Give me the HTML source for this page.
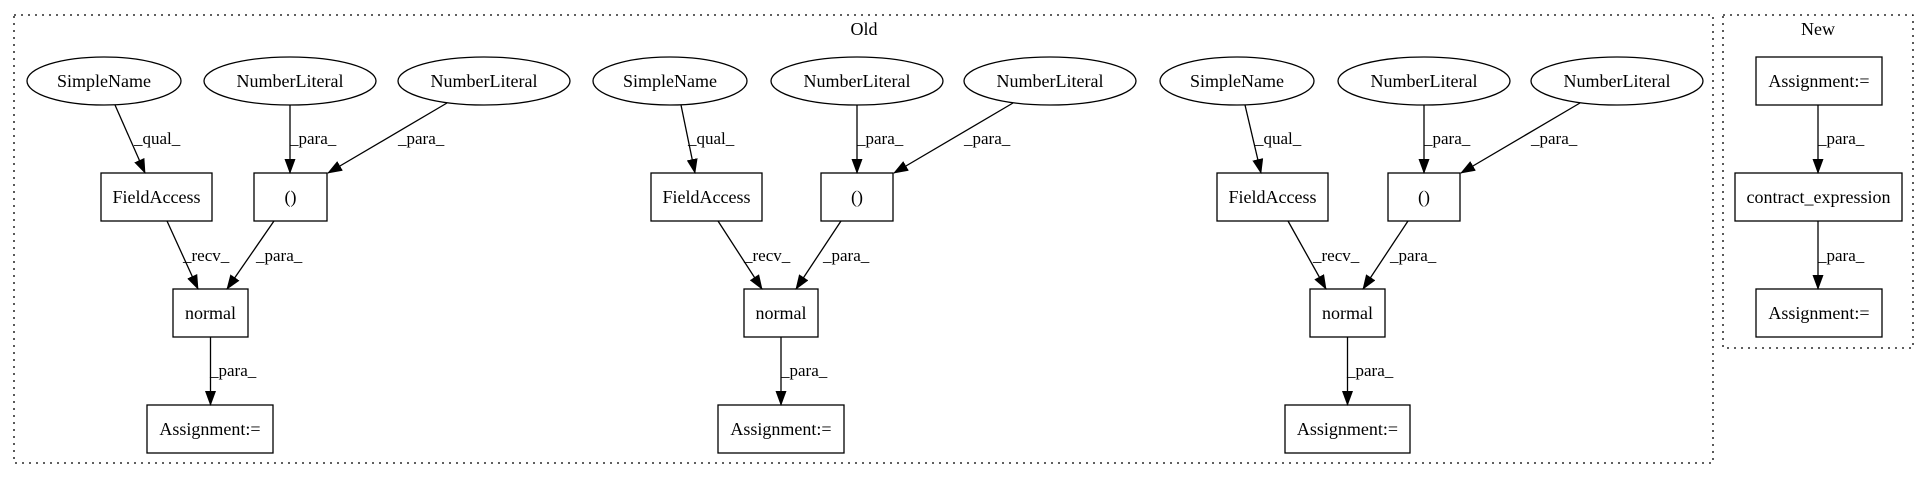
<!DOCTYPE html>
<html><head><meta charset="utf-8"><style>
html,body{margin:0;padding:0;background:#fff;}
svg{display:block;}
text{font-family:"Liberation Serif",serif;fill:#000;}
.n{font-size:18px;text-anchor:middle;}
.l{font-size:17px;}
.b{fill:#fff;stroke:#000;stroke-width:1.3;}
.e{stroke:#000;stroke-width:1.3;fill:none;}
.c{fill:none;stroke:#000;stroke-width:1.3;stroke-dasharray:2,5;}
</style></head><body>
<svg width="1929" height="480" viewBox="0 0 1929 480" xmlns="http://www.w3.org/2000/svg">
<defs><marker id="a" markerWidth="15" markerHeight="11" refX="14" refY="5.5" orient="auto" markerUnits="userSpaceOnUse"><path d="M0,0 L15,5.5 L0,11 Z" fill="#000"/></marker></defs>
<rect class="c" x="14" y="15" width="1699" height="448"/>
<text class="n" x="864" y="35">Old</text>
<rect class="c" x="1723" y="15" width="190" height="333"/>
<text class="n" x="1818" y="35">New</text>

<g>
<ellipse class="b" cx="104" cy="81" rx="77" ry="24"/><text class="n" x="104" y="87">SimpleName</text>
<ellipse class="b" cx="290" cy="81" rx="86" ry="24"/><text class="n" x="290" y="87">NumberLiteral</text>
<ellipse class="b" cx="484" cy="81" rx="86" ry="24"/><text class="n" x="484" y="87">NumberLiteral</text>
<rect class="b" x="101" y="173" width="111" height="48"/><text class="n" x="156.5" y="203">FieldAccess</text>
<rect class="b" x="254" y="173" width="73" height="48"/><text class="n" x="290.5" y="203">()</text>
<rect class="b" x="173" y="289" width="75" height="48"/><text class="n" x="210.5" y="319">normal</text>
<rect class="b" x="147" y="405" width="126" height="48"/><text class="n" x="210" y="435">Assignment:=</text>
<line class="e" x1="115" y1="105" x2="145" y2="173" marker-end="url(#a)"/>
<line class="e" x1="290" y1="105" x2="290" y2="173" marker-end="url(#a)"/>
<line class="e" x1="447" y1="103" x2="328" y2="173" marker-end="url(#a)"/>
<line class="e" x1="167" y1="221" x2="198" y2="289" marker-end="url(#a)"/>
<line class="e" x1="274" y1="221" x2="227" y2="289" marker-end="url(#a)"/>
<line class="e" x1="210.5" y1="337" x2="210.5" y2="405" marker-end="url(#a)"/>
<text class="l" x="134" y="144">_qual_</text>
<text class="l" x="290" y="144">_para_</text>
<text class="l" x="398" y="144">_para_</text>
<text class="l" x="183" y="261">_recv_</text>
<text class="l" x="256" y="261">_para_</text>
<text class="l" x="210" y="376">_para_</text>
</g>

<g>
<ellipse class="b" cx="670" cy="81" rx="77" ry="24"/><text class="n" x="670" y="87">SimpleName</text>
<ellipse class="b" cx="857" cy="81" rx="86" ry="24"/><text class="n" x="857" y="87">NumberLiteral</text>
<ellipse class="b" cx="1050" cy="81" rx="86" ry="24"/><text class="n" x="1050" y="87">NumberLiteral</text>
<rect class="b" x="651" y="173" width="111" height="48"/><text class="n" x="706.5" y="203">FieldAccess</text>
<rect class="b" x="821" y="173" width="72" height="48"/><text class="n" x="857" y="203">()</text>
<rect class="b" x="744" y="289" width="74" height="48"/><text class="n" x="781" y="319">normal</text>
<rect class="b" x="718" y="405" width="126" height="48"/><text class="n" x="781" y="435">Assignment:=</text>
<line class="e" x1="681" y1="105" x2="695" y2="173" marker-end="url(#a)"/>
<line class="e" x1="857" y1="105" x2="857" y2="173" marker-end="url(#a)"/>
<line class="e" x1="1013" y1="103" x2="894" y2="173" marker-end="url(#a)"/>
<line class="e" x1="718" y1="221" x2="762" y2="289" marker-end="url(#a)"/>
<line class="e" x1="841" y1="221" x2="796" y2="289" marker-end="url(#a)"/>
<line class="e" x1="781" y1="337" x2="781" y2="405" marker-end="url(#a)"/>
<text class="l" x="688" y="144">_qual_</text>
<text class="l" x="857" y="144">_para_</text>
<text class="l" x="964" y="144">_para_</text>
<text class="l" x="744" y="261">_recv_</text>
<text class="l" x="823" y="261">_para_</text>
<text class="l" x="781" y="376">_para_</text>
</g>

<g>
<ellipse class="b" cx="1237" cy="81" rx="77" ry="24"/><text class="n" x="1237" y="87">SimpleName</text>
<ellipse class="b" cx="1424" cy="81" rx="86" ry="24"/><text class="n" x="1424" y="87">NumberLiteral</text>
<ellipse class="b" cx="1617" cy="81" rx="86" ry="24"/><text class="n" x="1617" y="87">NumberLiteral</text>
<rect class="b" x="1217" y="173" width="111" height="48"/><text class="n" x="1272.5" y="203">FieldAccess</text>
<rect class="b" x="1388" y="173" width="72" height="48"/><text class="n" x="1424" y="203">()</text>
<rect class="b" x="1310" y="289" width="75" height="48"/><text class="n" x="1347.5" y="319">normal</text>
<rect class="b" x="1285" y="405" width="125" height="48"/><text class="n" x="1347.5" y="435">Assignment:=</text>
<line class="e" x1="1245" y1="105" x2="1261" y2="173" marker-end="url(#a)"/>
<line class="e" x1="1424" y1="105" x2="1424" y2="173" marker-end="url(#a)"/>
<line class="e" x1="1580" y1="103" x2="1461" y2="173" marker-end="url(#a)"/>
<line class="e" x1="1288" y1="221" x2="1326" y2="289" marker-end="url(#a)"/>
<line class="e" x1="1408" y1="221" x2="1363" y2="289" marker-end="url(#a)"/>
<line class="e" x1="1347.5" y1="337" x2="1347.5" y2="405" marker-end="url(#a)"/>
<text class="l" x="1255" y="144">_qual_</text>
<text class="l" x="1424" y="144">_para_</text>
<text class="l" x="1531" y="144">_para_</text>
<text class="l" x="1313" y="261">_recv_</text>
<text class="l" x="1390" y="261">_para_</text>
<text class="l" x="1347" y="376">_para_</text>
</g>

<g>
<rect class="b" x="1756" y="57" width="126" height="48"/><text class="n" x="1819" y="87">Assignment:=</text>
<rect class="b" x="1735" y="173" width="167" height="48"/><text class="n" x="1818.5" y="203">contract_expression</text>
<rect class="b" x="1756" y="289" width="126" height="48"/><text class="n" x="1819" y="319">Assignment:=</text>
<line class="e" x1="1818" y1="105" x2="1818" y2="173" marker-end="url(#a)"/>
<line class="e" x1="1818" y1="221" x2="1818" y2="289" marker-end="url(#a)"/>
<text class="l" x="1818" y="144">_para_</text>
<text class="l" x="1818" y="261">_para_</text>
</g>
</svg>
</body></html>
